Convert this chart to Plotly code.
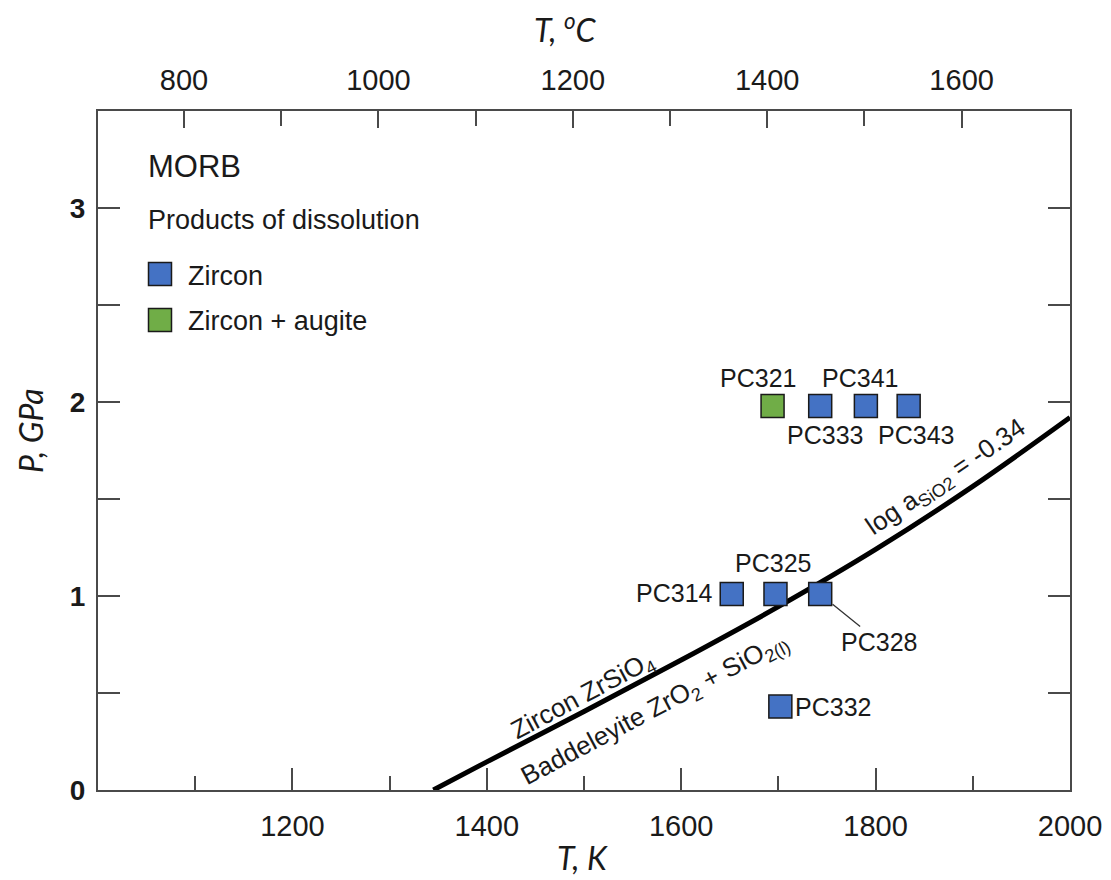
import plotly.graph_objects as go

# ---------------- data ----------------
zircon_T = [1743, 1790, 1834, 1652, 1697, 1743, 1702]
zircon_P = [1.98, 1.98, 1.98, 1.01, 1.01, 1.01, 0.43]
zircon_names = ["PC333", "PC341", "PC343", "PC314", "PC325", "PC328", "PC332"]

augite_T = [1694]
augite_P = [1.98]
augite_names = ["PC321"]

# log a_SiO2 = -0.34 boundary
line_T = [1345, 1400, 1500, 1600, 1700, 1800, 1900, 2000]
line_P = [0.0, 0.145, 0.405, 0.67, 0.945, 1.24, 1.565, 1.92]

K_ticks = [1200, 1400, 1600, 1800, 2000]
K_minor = [1100, 1300, 1500, 1700, 1900]
C_ticks = [800, 1000, 1200, 1400, 1600]
C_minor = [900, 1100, 1300, 1500]
P_ticks = [0, 0.5, 1, 1.5, 2, 2.5, 3]
P_ticktext = ["0", "", "1", "", "2", "", "3"]

# ---------------- styles / layout geometry ----------------
BLUE = "#4472C4"
GREEN = "#70AD47"
EDGE = "#1a1a1a"
AX = "#4a4a4a"
TXT = "#1a1a1a"
ARIAL = "Liberation Sans, Arial, sans-serif"
CAL = "Lato, Open Sans, sans-serif"

W, H = 1111, 880
OFF = 8  # page body margin of the browser
# plot-area edges in window pixels
VL, VR, VT, VB = 98, 1070, 111, 790
L, R, T, B = VL - OFF, VR - OFF, VT - OFF, VB - OFF
XR = [1000, 2000]
YR = [0, 3.5]
C_OFFSET = 288.5  # top axis as drawn in the source figure


def kx(px):
    return XR[0] + (px - VL) * (XR[1] - XR[0]) / (VR - VL)


def py(pyy):
    return YR[0] + (VB - pyy) * (YR[1] - YR[0]) / (VB - VT)


def paper_x(px):
    return (px - VL) / (VR - VL)


def paper_y(pyy):
    return (VB - pyy) / (VB - VT)


# label offsets (pixels) for each point label
label_style = {
    "PC333": dict(xshift=5, yshift=-29),
    "PC341": dict(xshift=-6, yshift=28),
    "PC343": dict(xshift=7, yshift=-29),
    "PC314": dict(xshift=-17, yshift=1, xanchor="right"),
    "PC325": dict(xshift=-2, yshift=31),
    "PC332": dict(xshift=13, yshift=0, xanchor="left"),
    "PC321": dict(xshift=-15, yshift=28),
}

fig = go.Figure()

fig.add_trace(go.Scatter(
    x=line_T, y=line_P, mode="lines",
    line=dict(color="black", width=5, shape="spline"),
    showlegend=False, hoverinfo="skip"))

fig.add_trace(go.Scatter(
    x=zircon_T, y=zircon_P, mode="markers", name="Zircon",
    marker=dict(symbol="square", size=23, color=BLUE, line=dict(color=EDGE, width=1.5)),
    showlegend=False))

fig.add_trace(go.Scatter(
    x=augite_T, y=augite_P, mode="markers", name="Zircon + augite",
    marker=dict(symbol="square", size=23, color=GREEN, line=dict(color=EDGE, width=1.5)),
    showlegend=False))

# invisible trace so the top (°C) axis is drawn
fig.add_trace(go.Scatter(x=[C_ticks[0]], y=[None], xaxis="x2", yaxis="y",
                         showlegend=False, hoverinfo="skip"))

annotations = []
lab_font = dict(family=ARIAL, size=25, color=TXT)
for names, xs, ys in [(zircon_names, zircon_T, zircon_P), (augite_names, augite_T, augite_P)]:
    for n, xv, yv in zip(names, xs, ys):
        if n == "PC328":
            annotations.append(dict(
                x=xv, y=yv, xref="x", yref="y", text=n, showarrow=True,
                arrowhead=0, arrowwidth=1.3, arrowcolor="#333", ax=59, ay=48,
                standoff=16, font=lab_font))
            continue
        st = label_style[n]
        annotations.append(dict(
            x=xv, y=yv, xref="x", yref="y", text=n, showarrow=False,
            xshift=st["xshift"], yshift=st["yshift"],
            xanchor=st.get("xanchor", "center"), yanchor="middle", font=lab_font))


def ptext(px, pyy, text, font, angle=0, xanchor="center"):
    return dict(x=paper_x(px), y=paper_y(pyy), xref="paper", yref="paper", text=text,
                textangle=angle, showarrow=False, xanchor=xanchor, yanchor="middle",
                font=font)


curve_font = dict(family=ARIAL, size=26, color=TXT)
annotations += [
    ptext(582, 696, "Zircon ZrSiO<sub>4</sub>", curve_font, -28),
    ptext(654, 709, "Baddeleyite ZrO<sub>2</sub> + SiO<sub>2(l)</sub>", curve_font, -28),
    ptext(946, 477, "log a<sub>SiO2</sub> = -0.34", curve_font, -34),
]

# legend block
annotations += [
    ptext(146, 166, "MORB", dict(family=ARIAL, size=31, color=TXT), xanchor="left"),
    ptext(146, 220, "Products of dissolution", dict(family=ARIAL, size=27, color=TXT),
          xanchor="left"),
    ptext(186, 276, "Zircon", dict(family=ARIAL, size=27, color=TXT), xanchor="left"),
    ptext(186, 321, "Zircon + augite", dict(family=ARIAL, size=27, color=TXT),
          xanchor="left"),
]

# axis titles
title_font = dict(family=CAL, size=32, color=TXT, style="italic")
annotations += [
    ptext(582, 857, "T, K", title_font),
    ptext(565, 28, "T, <sup>o</sup>C", title_font),
    ptext(30, 431, "P, GPa", title_font, -90),
]

shapes = []
for cy, col in [(274, BLUE), (320, GREEN)]:
    shapes.append(dict(
        type="rect", xref="x", yref="y", xsizemode="pixel", ysizemode="pixel",
        xanchor=kx(160), yanchor=py(cy), x0=-11.5, x1=11.5, y0=-11.5, y1=11.5,
        fillcolor=col, line=dict(color=EDGE, width=1.5), layer="above"))

tickfont = dict(family=ARIAL, size=29, color=TXT)

fig.update_layout(
    width=W, height=H,
    margin=dict(l=L, r=W - R, t=T, b=H - B, autoexpand=False),
    plot_bgcolor="white", paper_bgcolor="white",
    showlegend=False,
    xaxis=dict(
        range=XR, tickmode="array", tickvals=K_ticks, ticks="inside", ticklen=22,
        tickwidth=2, tickcolor=AX, showline=True, linecolor=AX, linewidth=2,
        showgrid=False, zeroline=False, tickfont=tickfont, ticklabelstandoff=9,
        automargin=False,
        minor=dict(tickmode="array", tickvals=K_minor, ticks="inside", ticklen=14,
                   tickwidth=2, tickcolor=AX, showgrid=False),
    ),
    xaxis2=dict(
        overlaying="x", side="top", anchor="y",
        range=[XR[0] - C_OFFSET, XR[1] - C_OFFSET], tickmode="array", tickvals=C_ticks,
        ticks="inside", ticklen=17, tickwidth=2, tickcolor=AX, showline=True,
        linecolor=AX, linewidth=2, showgrid=False, zeroline=False, tickfont=tickfont,
        ticklabelstandoff=7, automargin=False,
        minor=dict(tickmode="array", tickvals=C_minor, ticks="inside", ticklen=15,
                   tickwidth=2, tickcolor=AX, showgrid=False),
    ),
    yaxis=dict(
        range=YR, tickmode="array", tickvals=P_ticks, ticktext=P_ticktext,
        ticks="inside", ticklen=22, tickwidth=2, tickcolor=AX, showline=True,
        linecolor=AX, linewidth=2, mirror="ticks", showgrid=False, zeroline=False,
        tickfont=dict(family=ARIAL, size=28, color=TXT, weight="bold"),
        ticklabelstandoff=5, automargin=False,
    ),
    annotations=annotations,
    shapes=shapes,
)

fig.write_html("out.html")
